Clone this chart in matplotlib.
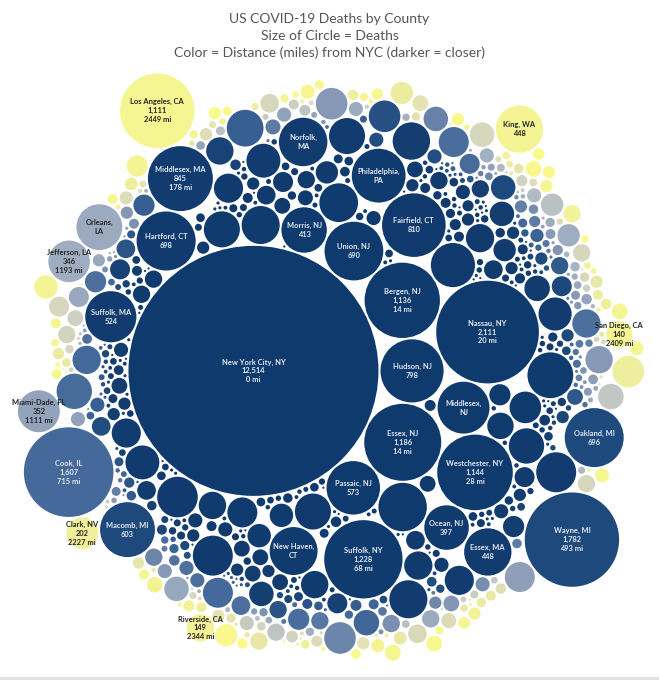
import math
import numpy as np
import matplotlib
matplotlib.use('Agg')
import matplotlib.pyplot as plt
from matplotlib.patches import Circle, Rectangle
from matplotlib.collections import PatchCollection
from matplotlib.colors import LinearSegmentedColormap, to_rgb

# labelled counties: name, deaths, distance from NYC (miles), how much label shows
names = ['New York City, NY', 'Hudson, NJ', 'Bergen, NJ', 'Essex, NJ', 'Union, NJ',
         'Passaic, NJ', 'Nassau, NY', 'Middlesex, NJ', 'Morris, NJ', 'Westchester, NY',
         'Fairfield, CT', 'Ocean, NJ', 'Suffolk, NY', 'New Haven, CT', 'Philadelphia, PA',
         'Hartford, CT', 'Middlesex, MA', 'Norfolk, MA', 'Suffolk, MA', 'Essex, MA',
         'Macomb, MI', 'Wayne, MI', 'Oakland, MI', 'Cook, IL', 'Miami-Dade, FL',
         'Orleans, LA', 'Jefferson, LA', 'Clark, NV', 'Riverside, CA', 'King, WA',
         'San Diego, CA', 'Los Angeles, CA']
deaths = [12514, 798, 1136, 1186, 690, 573, 2111, 540, 413, 1144,
          810, 397, 1228, 460, 580, 698, 845, 470, 524, 448,
          603, 1782, 696, 1607, 352, 420, 346, 202, 149, 448,
          140, 1111]
miles = [0, 5, 14, 14, 16, 19, 20, 27, 28, 28,
         47, 58, 68, 72, 83, 105, 178, 180, 190, 200,
         488, 493, 500, 715, 1111, 1170, 1193, 2227, 2344, 2400,
         2409, 2449]
detail = [3, 2, 3, 3, 2, 2, 3, 1, 2, 3,
          2, 2, 3, 1, 1, 2, 3, 1, 2, 2,
          2, 3, 2, 3, 3, 1, 3, 3, 3, 2,
          3, 3]

# unlabelled counties big enough to see (estimated from circle size / colour)
other_deaths = [
    470, 390, 260, 300, 290, 200, 180, 420, 330, 260,
    150, 140, 110, 110, 150, 70, 60, 50, 70, 70,
    40, 90, 50, 45, 30, 50, 15, 160, 160, 100,
    80, 20, 15, 10, 10, 50, 25, 10, 250, 230,
    40, 20, 170, 320, 260, 40, 60, 40, 30, 230,
    130, 320, 290, 80, 50, 70, 40, 30, 60, 220,
    170, 50, 50, 30, 40, 90, 20, 30, 100, 60,
    20, 170, 20, 30, 30, 30, 10, 280, 120, 40,
    30, 15, 15, 50, 30, 30, 30, 120, 60, 25,
    150, 120, 80, 80, 80, 30, 70, 200, 70, 60,
    20, 60, 30, 40, 30, 270, 130, 40, 160, 250,
    180, 70, 40, 180, 90, 40, 40, 160, 90, 90,
    80, 120, 200, 200, 60, 50, 35, 60, 45, 30,
    180, 150, 50, 40, 30, 120, 100, 80, 60, 40,
    60, 20, 40, 30, 40, 40, 30, 20, 40, 40,
    130, 100, 60, 50, 60, 30, 120, 80, 60, 70,
    70, 60, 30, 30, 50, 60, 40, 25, 45, 35,
    200, 100, 100, 50, 30, 50, 90, 40, 110, 50,
    40, 20, 20, 20, 20, 50, 30, 50, 20, 60,
]
other_miles = [
    30, 40, 38, 55, 55, 85, 70, 85, 95, 70,
    80, 70, 55, 75, 80, 95, 110, 120, 95, 100,
    50, 60, 50, 85, 85, 75, 65, 105, 110, 110,
    110, 130, 125, 115, 130, 135, 110, 115, 120, 150,
    140, 130, 165, 150, 190, 220, 130, 120, 140, 170,
    170, 200, 200, 185, 180, 190, 215, 150, 170, 205,
    215, 230, 205, 205, 215, 290, 290, 295, 115, 150,
    140, 130, 150, 150, 165, 130, 110, 290, 250, 200,
    145, 155, 140, 220, 220, 280, 260, 320, 340, 180,
    400, 480, 380, 470, 360, 440, 570, 540, 520, 620,
    560, 560, 480, 530, 510, 650, 700, 650, 720, 730,
    720, 750, 750, 740, 650, 530, 760, 750, 740, 750,
    730, 860, 1020, 880, 880, 600, 680, 800, 820, 900,
    1080, 1030, 1000, 940, 850, 1140, 1200, 1150, 1170, 1190,
    950, 1040, 1030, 1150, 1320, 1230, 1000, 960, 1100, 1100,
    1420, 1370, 1390, 1510, 1580, 1900, 1630, 1630, 1630, 1640,
    1670, 1620, 1970, 1780, 1850, 1980, 1450, 1550, 1700, 1750,
    2140, 2110, 2550, 2570, 2570, 2440, 2390, 2500, 2400, 2420,
    2450, 2430, 2140, 2470, 2480, 2560, 2560, 2360, 2160, 2300,
]

# the many small counties
small_deaths = [
    24, 8, 15, 5, 12, 3, 18, 6, 9, 4,
    22, 7, 11, 3, 16, 5, 9, 2, 14, 6,
    20, 4, 8, 12, 3, 17, 5, 10, 2, 7,
    13, 4, 19, 6, 9, 3, 15, 5, 11, 2,
    8, 14, 4, 21, 6, 10, 3, 16, 5, 12,
    2, 7, 18, 4, 9, 13, 3, 6, 23, 5,
    11, 2, 8, 15, 4, 10, 3, 17, 6, 12,
    2, 7, 19, 5, 9, 3, 14, 6, 11, 4,
    8, 16, 2, 10, 5, 13, 3, 7, 20, 4,
    9, 6, 12, 3, 15, 5, 8, 2, 11, 4,
    14, 4, 9, 2, 18, 6, 11, 3, 8, 22,
    5, 12, 2, 16, 7, 10, 3, 13, 4, 20,
    6, 9, 2, 15, 5, 11, 3, 17, 7, 12,
    4, 19, 8, 2, 14, 6, 10, 3, 16, 5,
    21, 9, 2, 13, 4, 18, 7, 11, 3, 15,
    6, 24, 2, 10, 5, 17, 8, 3, 12, 4,
    20, 7, 14, 2, 9, 16, 5, 11, 3, 19,
    6, 13, 4, 22, 8, 2, 15, 10, 5, 12,
    3, 18, 7, 25, 4, 11, 2, 16, 6, 9,
    12, 4, 18, 7, 2, 14, 5, 9, 21, 3,
    11, 6, 16, 2, 8, 13, 4, 19, 6, 10,
    3, 15, 7, 22, 2, 12, 5, 9, 17, 4,
    8, 14, 3, 11, 6, 18, 2, 10, 5, 13,
    16, 5, 24, 9, 3, 13, 7, 20, 4, 11,
    28, 6, 15, 2, 10, 18, 5, 25, 8, 12,
    3, 22, 7, 14, 30, 4, 17, 9, 26, 6,
    19, 11, 33, 5, 15, 12, 20, 7, 14, 10,
    18, 6, 26, 10, 32, 4, 15, 22, 8, 30,
    12, 5, 24, 9, 35, 14, 3, 28, 7, 20,
    11, 38, 6, 17, 25, 4, 13, 30, 8, 21,
    16, 5, 27, 10, 19, 9, 23, 13, 31, 14,
]
small_miles = [
    22, 26, 33, 36, 42, 45, 47, 52, 58, 61,
    63, 66, 72, 74, 78, 81, 84, 88, 90, 93,
    97, 99, 102, 106, 108, 112, 116, 118, 121, 124,
    127, 129, 133, 136, 138, 141, 144, 147, 149, 152,
    155, 158, 160, 163, 166, 168, 171, 174, 176, 179,
    182, 185, 187, 190, 193, 196, 198, 201, 204, 207,
    209, 212, 215, 218, 221, 224, 226, 229, 232, 235,
    238, 241, 244, 247, 250, 253, 256, 259, 262, 265,
    268, 271, 274, 277, 280, 283, 286, 289, 292, 295,
    298, 300, 303, 306, 309, 312, 315, 318, 321, 324,
    332, 338, 345, 351, 357, 363, 369, 375, 381, 387,
    393, 399, 405, 411, 417, 423, 429, 435, 441, 447,
    453, 459, 465, 471, 477, 483, 489, 495, 501, 507,
    513, 519, 525, 531, 537, 543, 549, 555, 561, 567,
    573, 579, 585, 591, 597, 603, 609, 615, 621, 627,
    633, 639, 645, 651, 657, 663, 669, 675, 681, 687,
    693, 699, 705, 711, 717, 723, 729, 735, 741, 747,
    753, 759, 765, 771, 777, 783, 789, 795, 801, 807,
    813, 819, 825, 831, 837, 843, 849, 855, 861, 867,
    905, 915, 925, 935, 945, 955, 965, 975, 985, 995,
    1005, 1015, 1025, 1035, 1045, 1055, 1065, 1075, 1085, 1095,
    1105, 1115, 1125, 1135, 1145, 1155, 1165, 1175, 1185, 1195,
    1205, 1215, 1225, 1235, 1245, 1255, 1265, 1275, 1285, 1295,
    1360, 1380, 1400, 1420, 1440, 1460, 1480, 1500, 1520, 1540,
    1560, 1580, 1600, 1620, 1640, 1660, 1680, 1700, 1720, 1740,
    1760, 1780, 1800, 1820, 1840, 1860, 1880, 1900, 1920, 1940,
    1960, 1980, 2000, 2020, 2040, 1350, 2045, 1455, 1605, 1990,
    2060, 2080, 2100, 2120, 2150, 2180, 2200, 2230, 2260, 2290,
    2310, 2330, 2350, 2370, 2385, 2400, 2415, 2430, 2445, 2460,
    2475, 2490, 2505, 2520, 2535, 2550, 2565, 2580, 2590, 2600,
    2610, 2620, 2630, 2640, 2650, 2095, 2240, 2340, 2470, 2380,
]

# counties with only a handful of deaths
tiny_deaths = [
    3, 1, 2, 4, 1, 2, 5, 1, 3, 2,
    1, 4, 2, 1, 3, 6, 1, 2, 1, 3,
    2, 1, 4, 1, 2, 3, 1, 5, 2, 1,
    3, 1, 2, 4, 1, 2, 1, 3, 2, 6,
    1, 2, 3, 1, 4, 2, 1, 2, 5, 1,
    3, 2, 1, 4, 1, 2, 3, 1, 2, 1,
    2, 1, 3, 1, 4, 2, 1, 2, 3, 1,
    5, 2, 1, 3, 1, 2, 4, 1, 2, 1,
    3, 1, 2, 6, 1, 2, 3, 1, 4, 2,
    1, 2, 1, 3, 2, 1, 5, 1, 2, 3,
    1, 4, 2, 1, 3, 1, 2, 1, 4, 2,
    2, 1, 3, 1, 2, 4, 1, 2, 1, 3,
    1, 2, 5, 1, 2, 1, 3, 2, 1, 4,
    2, 1, 3, 1, 4, 2, 1, 2, 3, 1,
    5, 1, 2, 1, 3, 2, 1, 4, 1, 2,
    3, 1, 2, 1, 4, 2, 1, 3, 1, 2,
]
tiny_miles = [
    31, 35, 39, 44, 49, 54, 57, 62, 67, 71,
    76, 80, 86, 89, 92, 98, 101, 104, 109, 113,
    117, 122, 126, 131, 134, 139, 143, 146, 151, 154,
    159, 162, 167, 170, 173, 178, 181, 186, 189, 194,
    197, 202, 206, 210, 214, 219, 223, 228, 231, 236,
    240, 245, 249, 254, 258, 263, 267, 272, 276, 281,
    335, 342, 348, 354, 360, 366, 372, 378, 384, 390,
    396, 402, 408, 414, 420, 426, 432, 438, 444, 450,
    462, 474, 486, 498, 510, 522, 534, 546, 558, 570,
    582, 594, 606, 618, 630, 642, 654, 666, 678, 690,
    702, 714, 726, 738, 750, 762, 774, 786, 798, 810,
    910, 930, 950, 970, 990, 1010, 1030, 1050, 1070, 1090,
    1110, 1130, 1150, 1170, 1190, 1210, 1230, 1250, 1270, 1290,
    1370, 1410, 1450, 1490, 1530, 1570, 1610, 1650, 1690, 1730,
    1770, 1810, 1850, 1890, 1930, 1970, 2010, 2050, 2090, 2130,
    2170, 2210, 2250, 2290, 2330, 2370, 2410, 2450, 2490, 2530,
]

title = 'US COVID-19 Deaths by County\nSize of Circle = Deaths\nColor = Distance (miles) from NYC (darker = closer)'

# colour ramp: navy (near) -> grey -> yellow (far)
ramp = [(0, '#0f3a6d'), (300, '#143d70'), (500, '#1f4a7e'), (715, '#44699a'),
        (950, '#7c90b0'), (1190, '#9eacc1'), (1500, '#cdd0c2'), (1800, '#e1e0b4'),
        (2150, '#eeee9e'), (2650, '#fafa8a')]
cmap = LinearSegmentedColormap.from_list('dist', [(m / 2650, c) for m, c in ramp])

plt.rcParams['font.family'] = ['Lato', 'DejaVu Sans']


##########################################
# front-chain circle packing (same idea as d3.packSiblings)

def place(b, a, c):
    dx = b[0] - a[0]
    dy = b[1] - a[1]
    d2 = dx * dx + dy * dy
    if d2:
        a2 = (a[2] + c[2]) ** 2
        b2 = (b[2] + c[2]) ** 2
        if a2 > b2:
            x = (d2 + b2 - a2) / (2 * d2)
            y = math.sqrt(max(0, b2 / d2 - x * x))
            c[0] = b[0] - x * dx - y * dy
            c[1] = b[1] - x * dy + y * dx
        else:
            x = (d2 + a2 - b2) / (2 * d2)
            y = math.sqrt(max(0, a2 / d2 - x * x))
            c[0] = a[0] + x * dx - y * dy
            c[1] = a[1] + x * dy + y * dx
    else:
        c[0] = a[0] + c[2]
        c[1] = a[1]


def intersects(a, b):
    dr = a[2] + b[2] - 1e-6
    dx = b[0] - a[0]
    dy = b[1] - a[1]
    return dr > 0 and dr * dr > dx * dx + dy * dy


def pack(radii, shift):
    '''shift = where the pack grows round, as a fraction of the first radius
    to the right of the first circle's centre'''
    C = [[0.0, 0.0, r] for r in radii]
    n = len(C)
    C[0][0] = -C[1][2]
    C[1][0] = C[0][2]
    cx = C[0][0] + shift * C[0][2]
    place(C[1], C[0], C[2])
    nxt = {0: 1, 1: 2, 2: 0}
    prv = {1: 0, 2: 1, 0: 2}
    A, B = 0, 1

    def score(i):
        a, b = C[i], C[nxt[i]]
        ab = a[2] + b[2]
        dx = (a[0] * b[2] + b[0] * a[2]) / ab - cx
        dy = (a[1] * b[2] + b[1] * a[2]) / ab
        return dx * dx + dy * dy

    i = 3
    while i < n:
        c = C[i]
        place(C[A], C[B], c)
        j, k = nxt[B], prv[A]
        sj, sk = C[B][2], C[A][2]
        retry = False
        while True:
            if sj <= sk:
                if intersects(C[j], c):
                    B = j
                    nxt[A] = B
                    prv[B] = A
                    retry = True
                    break
                sj += C[j][2]
                j = nxt[j]
            else:
                if intersects(C[k], c):
                    A = k
                    nxt[A] = B
                    prv[B] = A
                    retry = True
                    break
                sk += C[k][2]
                k = prv[k]
            if j == nxt[k]:
                break
        if retry:
            continue
        prv[i], nxt[i] = A, B
        nxt[A] = i
        prv[B] = i
        B = i
        best = score(A)
        node = nxt[i]
        while node != B:
            s = score(node)
            if s < best:
                A, best = node, s
            node = nxt[node]
        B = nxt[A]
        i += 1
    return np.array(C)


##########################################

extra_deaths = other_deaths + small_deaths + tiny_deaths
extra_miles = other_miles + small_miles + tiny_miles
all_names = names + [''] * len(extra_deaths)
all_deaths = np.array(deaths + extra_deaths, dtype=float)
all_miles = np.array(miles + extra_miles, dtype=float)
all_detail = detail + [0] * len(extra_deaths)

order = np.argsort(all_miles, kind='stable')

# size: New York City circle is 125 px radius, 1 px white gap round each circle
scale = 125 / math.sqrt(deaths[0])
gap = 1.0
radii = np.sqrt(all_deaths[order]) * scale
circ = pack(radii + gap, 0.65)
circ[:, 2] = radii

# mirror so Cook ends up below New York City, as in the original
pos = {all_names[o]: p for o, p in zip(order, circ) if all_names[o]}
if pos['Cook, IL'][1] < pos['New York City, NY'][1]:
    circ[:, 1] *= -1
x0 = (circ[:, 0] - circ[:, 2]).min()
x1 = (circ[:, 0] + circ[:, 2]).max()
y0 = (circ[:, 1] - circ[:, 2]).min()
y1 = (circ[:, 1] + circ[:, 2]).max()
circ[:, 0] += 331 - (x0 + x1) / 2
circ[:, 1] += 367 - (y0 + y1) / 2

fig = plt.figure(figsize=(6.59, 6.80), dpi=100)
ax = fig.add_axes([0, 0, 1, 1])
ax.set_xlim(0, 659)
ax.set_ylim(680, 0)
ax.set_aspect('equal')
ax.axis('off')

colors = [cmap(m / 2650) for m in all_miles[order]]
patches = [Circle((x, y), r) for x, y, r in circ]
ax.add_collection(PatchCollection(patches, facecolors=colors, edgecolors='none'))

for (x, y, r), o, col in zip(circ, order, colors):
    lvl = all_detail[o]
    if not lvl:
        continue
    nm = all_names[o]
    if lvl == 1:
        txt = nm.replace(', ', ',\n')
    elif lvl == 2:
        txt = f'{nm}\n{int(all_deaths[o]):,}'
    else:
        txt = f'{nm}\n{int(all_deaths[o]):,}\n{int(all_miles[o])} mi'
    rr, gg, bb = to_rgb(col)
    lum = 0.299 * rr + 0.587 * gg + 0.114 * bb
    ax.text(x, y, txt, ha='center', va='center', fontsize=5.4, linespacing=1.3,
            fontweight='bold', color='#222222' if lum > 0.55 else '#e4e9f1')

fig.text(0.5, 1 - 36 / 680, title, ha='center', va='center', fontsize=10,
         color='#555555', linespacing=1.45)
fig.patches.append(Rectangle((0, 0), 1, 3 / 680, transform=fig.transFigure,
                             facecolor='#e3e3e3', edgecolor='none'))

fig.savefig('out.png', dpi=100)
